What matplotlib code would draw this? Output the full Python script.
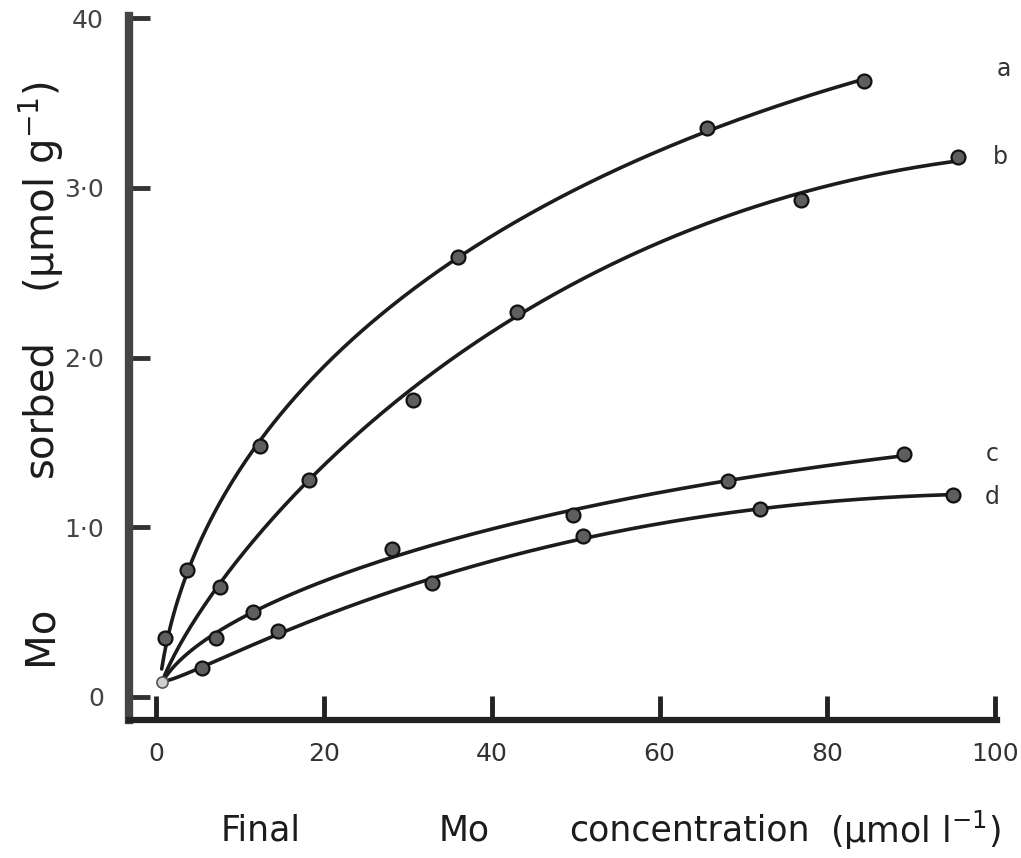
import numpy as np
import matplotlib
matplotlib.use('Agg')
import matplotlib.pyplot as plt

plt.rcParams['font.family'] = ['DejaVu Sans']
plt.rcParams['mathtext.default'] = 'regular'

# Final Mo concentration (umol l-1) and Mo sorbed (umol g-1)
a_x = [1.1, 3.7, 12.4, 36.0, 65.7, 84.3]
a_y = [0.35, 0.75, 1.48, 2.59, 3.35, 3.63]
b_x = [7.6, 18.2, 30.6, 43.0, 76.8, 95.6]
b_y = [0.65, 1.28, 1.75, 2.27, 2.93, 3.18]
c_x = [7.2, 11.6, 28.1, 49.7, 68.1, 89.1]
c_y = [0.35, 0.50, 0.87, 1.07, 1.27, 1.43]
d_x = [5.5, 14.6, 32.9, 50.9, 72.0, 95.0]
d_y = [0.17, 0.39, 0.67, 0.95, 1.11, 1.19]
start_x, start_y = 0.7, 0.09   # common starting point of the curves

# the b point at 30.6 lies off the drawn curve, so it hardly counts in the fit
fit_weights = {'a': [1] * 6, 'b': [1, 1, 0.05, 1, 1, 1], 'c': [1] * 6, 'd': [1] * 6}

series = [('a', a_x, a_y), ('b', b_x, b_y), ('c', c_x, c_y), ('d', d_x, d_y)]
label_pos = {'a': (101.0, 3.70), 'b': (100.6, 3.18), 'c': (99.6, 1.43), 'd': (99.6, 1.18)}

x_ticks = [0, 20, 40, 60, 80, 100]
y_ticks = [0, 1, 2, 3, 4]
y_ticklabels = ['0', '1·0', '2·0', '3·0', '40']

ink = '#1c1c1c'

fig = plt.figure(figsize=(10.21, 8.58), dpi=100)
ax = fig.add_axes([0.1263, 0.1608, 0.8502, 0.8206])


def fitted_curve(xs, ys, ws):
    # smooth hand-drawn-like curve: cubic in sqrt(x), fitted to the points
    xs = np.array([start_x] + list(xs))
    ys = np.array([start_y] + list(ys))
    ws = np.array([1.0] + list(ws))
    coef = np.polyfit(np.sqrt(xs), ys, 3, w=ws)
    xx = np.linspace(start_x, xs.max(), 300)
    return xx, np.polyval(coef, np.sqrt(xx))


for name, xs, ys in series:
    xx, yy = fitted_curve(xs, ys, fit_weights[name])
    ax.plot(xx, yy, color=ink, lw=2.6, solid_capstyle='round', zorder=2)
    ax.plot(xs, ys, 'o', ms=10, mfc='#5e5e5e', mec='#111111', mew=1.6, zorder=3)
    lx, ly = label_pos[name]
    ax.text(lx, ly, name, fontsize=17, color='#333333', ha='center', va='center',
            clip_on=False)

ax.plot([start_x], [start_y], 'o', ms=8, mfc='#cfcfcf', mec='#555555', mew=1.2, zorder=3)

ax.set_xlim(-3.2, 100.2)
ax.set_ylim(-0.136, 4.013)

for side in ['top', 'right']:
    ax.spines[side].set_visible(False)
ax.spines['left'].set_linewidth(6)
ax.spines['left'].set_color('#454545')
ax.spines['bottom'].set_linewidth(4.5)
ax.spines['bottom'].set_color('#222222')

ax.set_xticks(x_ticks)
ax.set_xticklabels([str(v) for v in x_ticks])
ax.set_yticks(y_ticks)
ax.set_yticklabels(y_ticklabels)
ax.tick_params(axis='x', direction='in', length=17, width=3.5, color='#222222',
               pad=16, labelsize=18, labelcolor='#333333')
ax.tick_params(axis='y', direction='in', length=15, width=3.5, color='#333333',
               pad=18, labelsize=18, labelcolor='#444444')

# axis titles, spaced out as in the original lettering
fig.text(0.255, 0.032, 'Final', fontsize=25, color=ink, ha='center', va='center')
fig.text(0.455, 0.032, 'Mo', fontsize=25, color=ink, ha='center', va='center')
fig.text(0.675, 0.032, 'concentration', fontsize=25, color=ink, ha='center', va='center')
fig.text(0.897, 0.032, '(µmol l$^{-1}$)', fontsize=25, color=ink, ha='center', va='center')

fig.text(0.040, 1 - 635 / 858, 'Mo', fontsize=29, color=ink, rotation=90,
         ha='center', va='center')
fig.text(0.040, 1 - 408 / 858, 'sorbed', fontsize=29, color=ink, rotation=90,
         ha='center', va='center')
fig.text(0.040, 1 - 187 / 858, '(µmol g$^{-1}$)', fontsize=29, color=ink, rotation=90,
         ha='center', va='center')

fig.savefig('out.png', dpi=100, facecolor='white')
